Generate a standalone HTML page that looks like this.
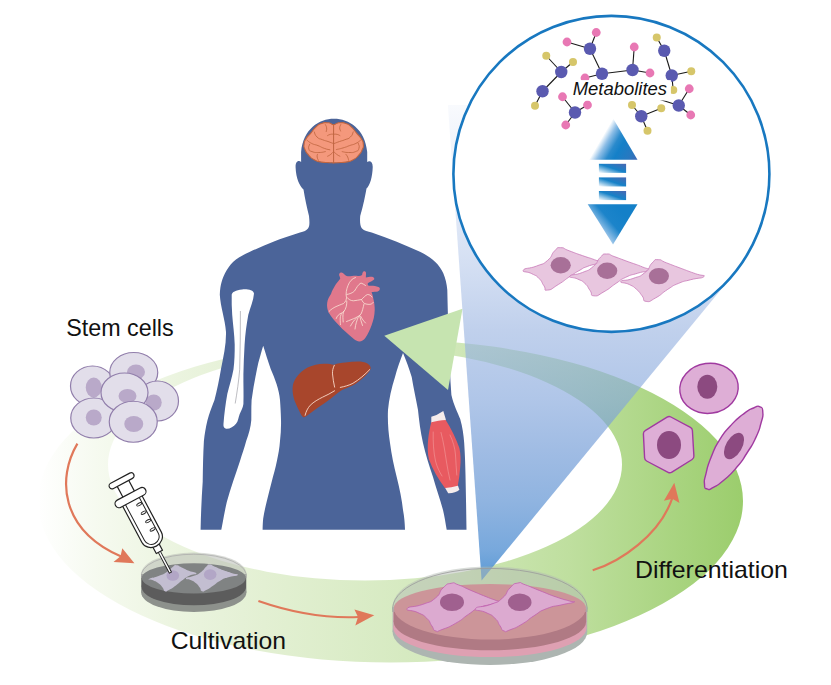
<!DOCTYPE html>
<html><head><meta charset="utf-8">
<style>
html,body{margin:0;padding:0;background:#fff;}
svg{display:block;font-family:"Liberation Sans",sans-serif;}
</style></head>
<body>
<svg width="831" height="685" viewBox="0 0 831 685">
<defs>
  <linearGradient id="ringG" gradientUnits="userSpaceOnUse" x1="38" y1="0" x2="745" y2="0">
    <stop offset="0" stop-color="#ffffff"/>
    <stop offset="0.08" stop-color="#f6faf0"/>
    <stop offset="0.2" stop-color="#ebf4df"/>
    <stop offset="0.32" stop-color="#e3f0d3"/>
    <stop offset="0.55" stop-color="#d4e9be"/>
    <stop offset="0.75" stop-color="#bfdf9f"/>
    <stop offset="0.9" stop-color="#a9d480"/>
    <stop offset="1" stop-color="#9bcd6c"/>
  </linearGradient>
  <linearGradient id="coneG" gradientUnits="userSpaceOnUse" x1="0" y1="100" x2="0" y2="581">
    <stop offset="0" stop-color="#c9d7f1" stop-opacity="0.1"/>
    <stop offset="0.208" stop-color="#c9d7f1" stop-opacity="0.5"/>
    <stop offset="0.478" stop-color="#9eb7e2" stop-opacity="0.65"/>
    <stop offset="0.624" stop-color="#85a7dc" stop-opacity="0.65"/>
    <stop offset="0.728" stop-color="#6d98d5" stop-opacity="0.65"/>
    <stop offset="0.832" stop-color="#6b9bd6" stop-opacity="0.75"/>
    <stop offset="0.936" stop-color="#6099d6" stop-opacity="0.85"/>
    <stop offset="1" stop-color="#4f93d2" stop-opacity="0.95"/>
  </linearGradient>
  <linearGradient id="arrUp" gradientUnits="userSpaceOnUse" x1="601.0" y1="139.1" x2="637.2" y2="160.3">
    <stop offset="0" stop-color="#ffffff"/>
    <stop offset="0.16" stop-color="#8cbde6"/>
    <stop offset="0.35" stop-color="#2a8acc"/>
    <stop offset="0.5" stop-color="#1480c8"/>
    <stop offset="0.8" stop-color="#2878c0"/>
    <stop offset="1" stop-color="#4068b4"/>
  </linearGradient>
  <linearGradient id="arrBar" x1="0" y1="1" x2="1" y2="0">
    <stop offset="0" stop-color="#ffffff"/>
    <stop offset="0.5" stop-color="#1682c8"/>
    <stop offset="1" stop-color="#4a68b2"/>
  </linearGradient>
  <linearGradient id="arrDn" gradientUnits="userSpaceOnUse" x1="594" y1="236" x2="622" y2="212">
    <stop offset="0" stop-color="#ffffff"/>
    <stop offset="0.3" stop-color="#8cbde6"/>
    <stop offset="0.6" stop-color="#1c84ca"/>
    <stop offset="1" stop-color="#1480c8"/>
  </linearGradient>
</defs>

<!-- RING -->
<g id="ring">
<path fill="url(#ringG)" fill-rule="evenodd" d="M38,501.1 a352.5,161.45 0 1,0 705,0 a352.5,161.45 0 1,0 -705,0 Z M108,464.5 a257,116 0 1,0 514,0 a257,116 0 1,0 -514,0 Z"/>
</g>

<!-- white mask behind body -->

<!-- BODY -->
<g id="body">
<!-- white gap masks -->
<path d="M263.2,344 L285,344 L285,532 L220,532 Z" fill="#fff"/>
<path d="M403,351 L386,351 L386,532 L448,532 Z" fill="#fff"/>
<path fill="#4b6499" d="
M334,118.8
C349,118.8 365,129 367.2,152
L367.2,162
C369.5,160 373,161.5 372.7,167.5
C372.4,177 370,185.5 366.5,188.5
C364.5,200 362,210 360.2,216
C359.8,222 360,226 362,228.5
C364,231 368,231.5 371.7,232.5
C380,235.5 388.5,238.5 396.7,241.7
C404.5,245 412.5,248.2 420,251.7
C425.5,254.5 430.5,257.5 435,261.7
C438.5,265 441.5,269 443.3,273.3
C445.5,278.5 446.8,284 447.3,290
C448,320 449,360 451.4,395
C454,406 457.5,412 460.2,419
C462.5,427 463.6,435 464.2,443
C465,455 465.3,465 465.5,475
L466.1,505 L466.5,529.8
L446.7,529.8
C445.5,523 444.5,516 443,510
C440,499 436,488 433,477
C429,465 425.5,454 423,443
C420.5,432 419,420 418,410
C416,399 413.5,388 411.7,377
C409,368 406,360 403,353
C400,361 397,369 395,377
C391.5,388 389,399 388,410
C387.5,421 388.3,432 390,443
C391.5,455 394,466 396.7,477
C399.5,488 402,500 403,510
C404.3,517 404.8,523 405,529.8
L262.6,529.8
C262.7,525 262.9,521 263.2,518.5
C264,513 265.3,507.5 266.6,502
C268.3,495 270,488.5 271.7,481.7
C273.5,475 275.5,468 276.9,461
C278.3,454.5 279.5,448 280,441
C280.8,434 281.2,427 281,420
C280.9,413.5 280.5,407 280,400
C279.2,389.5 275,379 270.7,369
C268,361 265.5,353 263.2,345.7
C261,353 258.5,361 257,369
C255,379 253,389.5 251.6,400
C251.2,407 251.4,413.5 251.3,420
C250.8,427 248.8,434 246.2,441
C244.3,448 242,454.5 240,461
C237.7,468 235.3,475 233,481.7
C230.8,488.5 228.7,495 226.8,502
C225.2,509 223.8,516 222.7,522.6
L221.3,529.8
L200.6,529.8
C200.9,514 201.6,498 202.7,481.7
C202.9,468 203.1,454.5 203.9,441
C204.6,434 205.8,427 207.4,420.4
C209.3,413.5 211.7,407 214.5,400
C217,390 219.3,379.5 221,369
C223.5,356.5 226.3,344 226,332
C225,319 220.5,307 219.8,294.8
C220.2,284 222.5,278.5 225,273.3
C227,269 230,265 233.3,261.7
C238,257.5 244,254.5 250,251.7
C257.5,248.2 265.5,245 273.3,241.7
C281.5,238.5 291,235.5 300,232.5
C304,231.5 306.5,230.5 308,228.5
C309.8,226 309.6,222 309,216
C307,208 305,199 303.5,189.5
C299.5,186 296,178 295.6,167.5
C295.3,161 299,160 301.1,162
L301.1,152
C303.3,129 319,118.8 334,118.8 Z"/>
</g>

<g id="organs">
<!-- brain -->
<path d="M333.5,124.6 C331.3,124.6 332.4,123.8 330.3,123.2 C328.2,122.6 330.0,122.7 327.1,122.8 C324.2,122.8 325.3,122.0 321.6,123.4 C318.0,124.8 319.8,123.6 316.1,126.9 C312.5,130.2 314.0,129.3 310.6,133.3 C307.3,137.3 308.3,135.1 306.1,138.8 C303.9,142.4 304.4,140.6 304.1,144.3 C303.7,147.9 303.6,146.1 305.1,149.8 C306.7,153.4 305.8,151.9 308.8,155.3 C311.9,158.6 310.0,157.5 314.3,159.8 C318.6,162.1 316.7,161.2 321.6,162.1 C326.5,163.0 325.0,162.3 328.9,162.6 C332.9,162.8 330.3,162.9 333.5,162.9 C336.7,162.9 334.4,162.8 338.5,162.6 C342.5,162.3 340.9,163.0 345.8,162.1 C350.7,161.2 348.8,162.1 353.1,159.8 C357.4,157.5 355.5,158.6 358.6,155.3 C361.6,151.9 360.7,153.4 362.2,149.8 C363.8,146.1 363.6,147.9 363.3,144.3 C363.0,140.6 363.5,142.4 361.3,138.8 C359.1,135.1 360.1,137.3 356.8,133.3 C353.4,129.3 354.9,130.2 351.3,126.9 C347.6,123.6 349.4,124.8 345.8,123.4 C342.1,122.0 343.2,122.8 340.3,122.8 C337.4,122.7 339.3,122.6 337.1,123.2 C334.8,123.8 335.8,124.6 333.5,124.6 Z" fill="#f4987c" stroke="#bf6540" stroke-width="1.1" stroke-linejoin="round"/>
<g fill="none" stroke="#bf6540" stroke-width="0.85" stroke-linecap="round">
<path d="M333.6,124.8 L333.6,162.8" stroke-width="1"/>
<path d="M325.3,124.6 C325.7,125.7 326.3,125.5 326.6,127.8 C327.0,130.1 326.3,130.2 326.2,131.5"/>
<path d="M314.3,131.9 C315.2,133.6 314.3,134.4 317.0,137.0 C319.8,139.6 318.9,138.2 322.5,139.7 C326.2,141.2 324.5,140.3 328.0,141.5 C331.5,142.8 331.4,142.8 333.1,143.4"/>
<path d="M307.0,140.2 C308.5,141.2 307.9,141.5 311.6,143.4 C315.2,145.2 313.7,144.0 318.0,145.6 C322.2,147.3 320.4,147.0 324.4,148.4 C328.3,149.8 328.0,149.3 329.9,149.8"/>
<path d="M309.7,144.3 C309.4,145.8 308.0,146.4 308.8,148.9 C309.6,151.3 308.7,150.4 312.0,151.6 C315.4,152.8 314.5,152.5 318.9,152.5 C323.3,152.5 323.1,151.9 325.3,151.6"/>
<path d="M317.5,154.3 C317.4,155.3 316.9,155.1 317.2,157.1 C317.5,159.1 318.0,159.2 318.4,160.3"/>
<path d="M327.6,156.2 C328.6,155.6 328.8,155.9 330.8,154.3 C332.7,152.8 332.6,152.5 333.5,151.6"/>
<path d="M327.6,135.6 C328.5,135.2 328.3,134.9 330.3,134.4 C332.3,133.9 332.4,134.3 333.5,134.2"/>
<path d="M340.8,124.6 C340.5,125.7 339.8,125.7 339.7,127.8 C339.7,129.9 340.3,129.9 340.6,131.0"/>
<path d="M353.2,131.9 C352.3,133.6 353.2,134.4 350.4,137.0 C347.7,139.6 348.6,138.2 344.9,139.7 C341.3,141.2 343.0,140.3 339.5,141.5 C336.0,142.8 336.1,142.8 334.4,143.4"/>
<path d="M360.5,140.2 C359.0,141.2 359.6,141.5 355.9,143.4 C352.3,145.2 353.8,144.1 349.5,145.6 C345.3,147.2 347.5,146.6 343.1,147.9 C338.7,149.2 338.5,149.0 336.3,149.6"/>
<path d="M358.2,143.4 C358.5,145.0 359.9,145.6 358.9,148.4 C358.0,151.1 358.9,150.2 355.5,151.6 C352.0,153.0 353.0,152.5 348.6,152.5 C344.2,152.5 344.3,151.9 342.2,151.6"/>
<path d="M345.9,154.3 C346.5,155.3 346.8,155.1 347.7,157.1 C348.6,159.1 348.3,159.2 348.6,160.3"/>
<path d="M339.9,156.2 C338.8,155.6 338.8,155.9 336.7,154.3 C334.6,152.8 334.7,152.5 333.7,151.6"/>
<path d="M339.9,135.6 C339.0,135.2 339.2,134.9 337.2,134.4 C335.1,133.9 334.9,134.3 333.7,134.2"/>
</g>
<!-- heart -->
<path fill="#e0788c" d="M339.1,275.1 C339,273 340.5,272.2 341.4,272.6 C342.8,273 343.5,273.8 344.5,274.4 C345.5,275.2 346.5,276 347.7,276.3 C350.5,276.5 353.5,275.5 356.5,275.7 C358.5,276.3 360.5,276.3 362.1,275.1 C362.3,273.5 362.6,271.6 364,271.3 C365.2,271.2 365.9,271.8 365.9,272.6 C366.2,274.3 365.8,276 365.9,277.6 C368,277.5 370.5,276.5 372.8,277 C374.2,277.5 374.6,278.7 374.1,279.5 C372.5,281.2 369.8,281.8 367.8,283.2 C367.5,284.5 368,285.5 369,285.8 C372,285.5 375.5,285.8 378.5,287 C379.8,287.6 380.2,288.6 379.7,289.5 C379.4,290.5 378.7,291.1 377.8,291.4 C375.8,291.9 373.5,291.6 371.6,292 C372.5,294.3 373,296.6 373.4,299 C374.3,302.8 374.8,306.5 374.7,310.3 C374.6,315.5 373.4,320.5 371.6,325.3 C370,329.8 368,334.2 365.3,337.9 C363.6,340.2 361.3,341.6 359,341.4 C356.6,341.1 354.5,339.6 352.7,337.9 C348,334 343,330 338.9,325.3 C335,321.3 331.4,317.3 328.8,312.8 C327.3,309.6 326.7,306.1 327.2,302.7 C327.6,299.2 329.3,296.6 331,294 C332,291 333.3,288.5 334.8,286 C336.3,283.3 338.5,281 340.2,278.8 C340.2,277.5 339.5,276.3 339.1,275.1 Z"/>
<g fill="none" stroke="#fae3d6" stroke-width="0.8" stroke-linecap="round">
<path d="M329,311.5 C333,307 339,305.5 343.5,303.5 C345.5,302 346.5,299.5 346.5,297.5 C345.5,294 346.5,289 348,285.5 C349.5,281.5 352,278.5 355.5,277.5"/>
<path d="M346.8,294.5 C349.5,294 352.5,293 354.5,291 C356.5,288 358,284.5 361,283 C362.5,283.5 364,284.5 365.5,285.5"/>
<path d="M347,297.5 C348.5,299.5 351,300.8 353.5,300.8 C356,300.5 359,300 361.5,299.5 C363.5,297.8 365,295.5 367.5,294.5 C369.5,294.5 371,295.5 372,297"/>
<path d="M361.5,299.5 C362.5,301.5 363.5,303.5 366,304 C368.5,304.5 371.5,305 373.2,302.5"/>
<path d="M364,304 C363,308 362.5,311 361,314 C358.5,317 353,319 346.5,321.5"/>
<path d="M358.5,316.5 C357,320 355.5,324 355,329"/>
<path d="M356.5,318 C353.5,320.5 352,323.5 350.5,326"/>
<path d="M359.5,315.5 C360.5,319 361.5,322.5 362.5,325.5"/>
<path d="M360.5,316 C362,319 364,321.5 365.5,323"/>
<path d="M346.8,301 C347,305 346,309 343.5,312 C342.5,315.5 343,319 343.2,322"/>
<path d="M344,311 C341.5,313 340,315.5 340.2,319 C340.2,321.5 340.3,323 340.5,324.5"/>
<path d="M341.5,313 C339,314 337,316 336.2,318.5"/>
</g>
<!-- liver -->
<path fill="#a8462c" d="M292.6,387.7 C292.8,384 294.3,380.5 296.3,377.6 C299.2,373.5 303.2,370 307.6,367.6 C312.8,365.2 318.5,364 324,363.8 C327.5,363.6 331,364.2 334,364.8 C337.5,363.5 341.5,363 345.3,362.6 C350.3,361.9 355.5,361.4 360.4,361.6 C363.8,361.9 367.2,363 369.2,365.1 C370.3,366.2 370.9,367.6 370.7,368.8 C369.5,371.5 367.5,373.8 365.4,375.8 C362.4,378.8 359,381.7 355.4,383.9 C351,386.5 346,388 341.6,390.2 C337.6,392.8 334,396 330.3,399 C326.2,402 322,405 317.7,407.8 C314.3,410.3 311,413 307.6,415.3 C306.3,416.4 304.6,417.5 303.2,417.2 C301.8,416.2 300.9,414.5 300.1,412.8 C298,408.8 296,404.6 294.4,400.3 C293.2,396.3 292.4,392 292.6,387.7 Z"/>
<g fill="none" stroke="#f8d8c8" stroke-width="0.9" stroke-linecap="round">
<path d="M334.3,365.3 C333,368 332.3,371 332.5,373.9 C332.8,378.5 333.8,383 334.6,387.1"/>
<path d="M305.1,415.3 C306,411.5 307.8,408 310.2,405.3 C313.8,401.8 318.3,399.3 322.7,397.1 C326.8,395 331.2,393.2 334.6,390.8"/>
<path d="M340.3,387.4 C344.6,386.6 349,385.3 352.9,383.3 C359.3,379.6 364.7,374.7 369.8,369.5"/>
</g>
<!-- bone -->
<path fill="#fff" d="M231.7,294.8 C231.8,292 236,290 242.1,289.4 C248,289 253.5,290 254,293.6 C253.5,300.5 250.3,307.5 248.3,314.7 C246.5,324.5 245.2,334.5 244.6,344.4 C244,354.3 243.6,364.3 243.4,374.2 C243.3,384.2 243.8,394 243.4,404 C243,408 241,411 239.7,413.9 C238.3,417.5 238.3,421 236,423.8 C233.5,426.8 229.5,429.3 226,428.8 C223.8,428.3 223.2,426 223.5,423.8 C224.3,413.8 225.5,404 227.3,394 C229.3,385.8 232,377.6 233.5,369.3 C234.5,361 234.8,352.7 234.7,344.4 C234.4,334.5 233,324.6 232.2,314.7 C231.8,308 231.5,301.5 231.7,294.8 Z"/>
<path fill="none" stroke="#909098" stroke-width="0.6" d="M240.4,311 C240.3,330 240.4,350 239.7,369.3 C238.8,381 237,392.5 235.2,403.5"/>
<!-- muscle -->
<path fill="#f5ecec" d="M431.3,416.7 L436.5,415 L443.3,411 L445.7,419 L445.9,421 L431.3,423.3 Z"/>
<path fill="#f5ecec" d="M444.9,487.6 L457.8,485.2 L459.4,489.7 C457,492 452,493.5 448.2,493.2 Z"/>
<path fill="#e85a60" d="M431.3,422.3 C436,421 441,420 445.7,419.9 C451,428.5 456,438 459.4,448 C460.8,454.3 460.8,460.8 460.2,467.2 C459.8,473.5 459,479.7 457.8,485.7 C453.5,487 449.2,487.8 444.9,488.1 C438.5,479 432.5,469.5 428.9,459.2 C427.5,452.8 427.5,446.3 428.1,440 C428.7,434 429.8,428 431.3,422.3 Z"/>
<g fill="none" stroke="#f4a8a8" stroke-width="0.5" stroke-linecap="round">
<path d="M433.2,432 C433,442 433.5,452 435.5,461 C437,467 439.5,472 442,476"/>
<path d="M441,432.5 C443.5,442 445,452 446.5,462 C447.5,468.5 448.8,474.5 450,480"/>
<path d="M450,435 C453,441 455,448 455.5,455 C456,462 456.2,469 456.8,475"/>
</g>
</g>

<!-- ARROWHEAD -->
<polygon points="384.3,335.8 462.5,308.8 448,390" fill="#c6e4b0"/>

<!-- CONE -->
<g id="cone">
<path d="M481.6,580.5 L447.9,105 L600,105 L733.6,274.3 Z" fill="url(#coneG)"/>
</g>

<!-- CIRCLE -->
<g id="circle">
<circle cx="611.4" cy="173.9" r="158" fill="#fff" stroke="#1878c0" stroke-width="2.6"/>
<g stroke="#1a1a1a" stroke-width="1.1">
<line x1="561.25" y1="72" x2="542.5" y2="91.25"/>
<line x1="561.25" y1="72" x2="546.25" y2="55.75"/>
<line x1="561.25" y1="72" x2="573" y2="62"/>
<line x1="542.5" y1="91.25" x2="535" y2="105.75"/>
<line x1="590" y1="48.75" x2="567" y2="42"/>
<line x1="590" y1="48.75" x2="596.25" y2="32.5"/>
<line x1="590" y1="48.75" x2="602" y2="73.75"/>
<line x1="602" y1="73.75" x2="632.5" y2="70"/>
<line x1="632.5" y1="70" x2="634.25" y2="47"/>
<line x1="632.5" y1="70" x2="650" y2="73"/>
<line x1="602" y1="73.75" x2="585" y2="78"/>
<line x1="656.75" y1="37.5" x2="664.25" y2="50.75"/>
<line x1="664.25" y1="50.75" x2="671.75" y2="75.5"/>
<line x1="671.75" y1="75.5" x2="691.25" y2="71.25"/>
<line x1="671.75" y1="75.5" x2="673.25" y2="90"/>
<line x1="678.75" y1="105.5" x2="689.25" y2="88.75"/>
<line x1="678.75" y1="105.5" x2="690.75" y2="115"/>
<line x1="678.75" y1="105.5" x2="660" y2="99.5"/>
<line x1="575" y1="112.5" x2="562.5" y2="96.75"/>
<line x1="575" y1="112.5" x2="587.5" y2="105"/>
<line x1="575" y1="112.5" x2="565.75" y2="125"/>
<line x1="641.25" y1="116.25" x2="632" y2="105"/>
<line x1="641.25" y1="116.25" x2="661.25" y2="108.25"/>
<line x1="641.25" y1="116.25" x2="647.5" y2="130.75"/>
</g>
<circle cx="561.25" cy="72" r="6.2" fill="#5a5ab0"/>
<circle cx="542.5" cy="91.25" r="6.2" fill="#5a5ab0"/>
<circle cx="546.25" cy="55.75" r="4.0" fill="#d6c66a"/>
<circle cx="573" cy="62" r="4.0" fill="#d6c66a"/>
<circle cx="535" cy="105.75" r="4.0" fill="#d6c66a"/>
<circle cx="590" cy="48.75" r="6.2" fill="#5a5ab0"/>
<circle cx="567" cy="42" r="4.4" fill="#e878b4"/>
<circle cx="596.25" cy="32.5" r="4.4" fill="#e878b4"/>
<circle cx="602" cy="73.75" r="6.2" fill="#5a5ab0"/>
<circle cx="632.5" cy="70" r="6.2" fill="#5a5ab0"/>
<circle cx="634.25" cy="47" r="4.4" fill="#e878b4"/>
<circle cx="650" cy="73" r="4.4" fill="#e878b4"/>
<circle cx="585" cy="78" r="4.4" fill="#e878b4"/>
<circle cx="656.75" cy="37.5" r="4.0" fill="#d6c66a"/>
<circle cx="664.25" cy="50.75" r="6.2" fill="#5a5ab0"/>
<circle cx="671.75" cy="75.5" r="6.2" fill="#5a5ab0"/>
<circle cx="691.25" cy="71.25" r="4.0" fill="#d6c66a"/>
<circle cx="673.25" cy="90" r="4.0" fill="#d6c66a"/>
<circle cx="678.75" cy="105.5" r="6.2" fill="#5a5ab0"/>
<circle cx="689.25" cy="88.75" r="4.4" fill="#e878b4"/>
<circle cx="690.75" cy="115" r="4.4" fill="#e878b4"/>
<circle cx="575" cy="112.5" r="6.2" fill="#5a5ab0"/>
<circle cx="562.5" cy="96.75" r="4.4" fill="#e878b4"/>
<circle cx="587.5" cy="105" r="4.4" fill="#e878b4"/>
<circle cx="565.75" cy="125" r="4.4" fill="#e878b4"/>
<circle cx="641.25" cy="116.25" r="6.2" fill="#5a5ab0"/>
<circle cx="632" cy="105" r="4.0" fill="#d6c66a"/>
<circle cx="661.25" cy="108.25" r="4.0" fill="#d6c66a"/>
<circle cx="647.5" cy="130.75" r="4.0" fill="#d6c66a"/>
<rect x="569" y="80.1" width="101.9" height="20.4" fill="#fff"/>
<text x="572.7" y="94.9" font-size="18" font-style="italic" textLength="94.4" lengthAdjust="spacingAndGlyphs" fill="#111">Metabolites</text>
<polygon points="613.1,118.4 588.8,159.7 637.5,159.7" fill="url(#arrUp)"/>
<rect x="598.9" y="163.8" width="27.2" height="9.1" fill="url(#arrBar)"/>
<rect x="598.9" y="177.4" width="27.2" height="9.1" fill="url(#arrBar)"/>
<rect x="598.9" y="191" width="27.2" height="9.1" fill="url(#arrBar)"/>
<polygon points="587.7,204.2 637.5,204.2 613,244.5" fill="url(#arrDn)"/>
<path d="M523.4,270.1 C525.0,267.5 528.6,269.2 536.7,266.0 C544.7,262.8 541.5,265.5 547.5,260.5 C553.5,255.4 550.3,255.1 554.7,250.8 C559.1,246.6 555.9,247.7 560.7,247.7 C565.5,247.7 561.9,248.2 569.2,250.8 C576.4,253.5 574.0,252.7 582.4,255.6 C590.8,258.6 588.8,257.5 594.4,259.7 C600.0,262.0 601.6,260.1 599.2,262.4 C596.8,264.6 593.6,263.9 587.2,266.5 C580.8,269.0 585.6,266.9 580.0,270.1 C574.4,273.3 577.6,271.3 570.4,276.1 C563.1,280.9 565.9,279.9 558.3,284.5 C550.7,289.2 552.3,289.7 547.5,290.1 C542.7,290.5 546.7,289.6 543.9,285.7 C541.1,281.9 543.1,282.5 539.1,278.5 C535.1,274.5 537.1,276.5 531.8,273.7 C526.6,270.9 521.8,272.7 523.4,270.1 Z" fill="#e6c0dc" fill-opacity="0.9" stroke="#c878b8" stroke-width="0.8" stroke-linejoin="round"/>
<ellipse cx="560.7" cy="265.3" rx="10.1" ry="8.2" fill="#a87098"/>
<path d="M569.9,276.1 C571.5,273.9 574.6,275.7 582.4,272.5 C590.2,269.3 587.2,271.5 593.2,266.5 C599.2,261.4 596.0,261.5 600.4,257.3 C604.9,253.2 601.6,254.1 606.5,254.0 C611.3,253.8 607.7,254.3 614.9,256.8 C622.1,259.4 618.9,258.3 628.1,261.7 C637.3,265.0 635.7,264.1 642.6,267.0 C649.4,269.8 650.2,268.0 648.6,270.1 C647.0,272.2 645.4,270.8 637.7,273.2 C630.1,275.6 632.9,273.9 625.7,277.3 C618.5,280.7 623.3,278.5 616.1,283.3 C608.9,288.1 611.4,287.6 604.0,291.7 C596.7,295.9 598.6,296.2 593.9,295.8 C589.3,295.4 593.1,294.7 590.1,290.5 C587.0,286.4 589.0,287.2 584.8,283.3 C580.6,279.5 582.5,281.4 577.6,279.0 C572.6,276.6 568.3,278.3 569.9,276.1 Z" fill="#e6c0dc" fill-opacity="0.9" stroke="#c878b8" stroke-width="0.8" stroke-linejoin="round"/>
<ellipse cx="607.2" cy="270.8" rx="10.1" ry="8.2" fill="#a87098"/>
<path d="M620.9,281.4 C622.1,279.4 624.9,281.5 632.9,278.5 C641.0,275.5 638.5,277.7 645.0,272.5 C651.4,267.3 647.8,267.1 652.2,262.9 C656.6,258.6 653.4,259.7 658.2,259.7 C663.0,259.7 659.0,260.0 666.6,262.9 C674.2,265.8 671.4,264.8 681.1,268.4 C690.7,272.0 687.9,271.0 695.5,273.7 C703.1,276.4 705.5,274.6 703.9,276.6 C702.3,278.6 699.1,277.5 690.7,279.7 C682.3,282.0 686.3,280.1 678.7,283.3 C671.0,286.5 675.4,284.5 667.8,289.3 C660.2,294.2 663.0,293.8 655.8,297.8 C648.6,301.8 650.7,302.0 646.2,301.4 C641.6,300.7 645.3,299.8 642.1,295.8 C638.9,291.8 640.8,293.1 636.5,289.3 C632.3,285.6 634.5,287.2 629.3,284.5 C624.1,281.9 619.7,283.4 620.9,281.4 Z" fill="#e6c0dc" fill-opacity="0.9" stroke="#c878b8" stroke-width="0.8" stroke-linejoin="round"/>
<ellipse cx="658.9" cy="276.1" rx="10.1" ry="8.2" fill="#a87098"/>
</g>

<!-- STEM CELLS -->
<g id="stem">
<ellipse cx="92.5" cy="386" rx="22" ry="20" fill="#e2deea" stroke="#917eab" stroke-width="1.2"/>
<ellipse cx="93.75" cy="387.5" rx="8" ry="10" fill="#b9a9c9"/>
<ellipse cx="133.75" cy="372.5" rx="24" ry="20" fill="#e2deea" stroke="#917eab" stroke-width="1.2"/>
<ellipse cx="136" cy="372" rx="9" ry="7.5" fill="#b9a9c9"/>
<ellipse cx="157.5" cy="401" rx="21" ry="20" fill="#e2deea" stroke="#917eab" stroke-width="1.2"/>
<ellipse cx="153.75" cy="402.5" rx="8" ry="8" fill="#b9a9c9"/>
<ellipse cx="93.75" cy="418" rx="23" ry="20" fill="#e2deea" stroke="#917eab" stroke-width="1.2"/>
<ellipse cx="93.75" cy="417.5" rx="8" ry="8" fill="#b9a9c9"/>
<ellipse cx="124.5" cy="392.5" rx="23.5" ry="19.5" fill="#e2deea" stroke="#917eab" stroke-width="1.2"/>
<ellipse cx="127.5" cy="396" rx="9" ry="7" fill="#b9a9c9"/>
<ellipse cx="133.25" cy="421.75" rx="24" ry="20.5" fill="#e2deea" stroke="#917eab" stroke-width="1.2"/>
<ellipse cx="133.75" cy="424" rx="9.5" ry="8" fill="#b9a9c9"/>
</g>

<!-- SYRINGE + DISH -->
<g id="smalldish">
<!-- dish -->
<clipPath id="sdLow"><rect x="135" y="574" width="120" height="45"/></clipPath>
<clipPath id="sdClip"><ellipse cx="193.8" cy="574" rx="52.6" ry="21.5"/></clipPath>
<g clip-path="url(#sdLow)">
<ellipse cx="193.8" cy="592.6" rx="52.6" ry="19.4" fill="#8d918c"/>
<rect x="141.2" y="574" width="105.2" height="18.6" fill="#8d918c"/>
<ellipse cx="193.8" cy="586.9" rx="52.2" ry="18.4" fill="#5c5c5c"/>
<rect x="141.6" y="576" width="104.4" height="10.9" fill="#5c5c5c"/>
</g>
<g clip-path="url(#sdClip)">
<rect x="135" y="545" width="120" height="35" fill="#b8bcb4" fill-opacity="0.55"/>
</g>
<path d="M141.8,578 A52,14.7 0 0 1 245.8,578 A52,15.5 0 0 1 141.8,578 Z" fill="#808383"/>
<path d="M141.5,578 A52.6,21.5 0 1 1 246.1,578" fill="none" stroke="#a8a8a8" stroke-width="0.7"/>
<!-- cells -->
<path d="M149.2,578.9 C150.8,577.5 152.5,578.5 158.5,576.0 C164.6,573.6 162.4,574.8 167.2,571.7 C172.0,568.6 169.9,568.8 173.0,566.7 C176.1,564.5 173.7,565.0 176.6,565.2 C179.5,565.5 177.6,565.6 181.7,567.4 C185.7,569.2 184.0,568.7 188.9,570.7 C193.8,572.7 195.9,571.9 196.4,573.4 C196.9,575.0 194.7,573.3 190.3,575.3 C185.9,577.4 187.9,576.3 183.1,579.7 C178.3,583.0 180.7,582.0 175.9,585.4 C171.1,588.9 172.3,588.1 168.7,590.1 C165.0,592.0 167.2,592.3 165.0,591.2 C162.9,590.2 164.6,589.7 162.2,586.9 C159.8,584.1 160.7,585.0 157.8,582.8 C154.9,580.7 156.4,581.7 153.5,580.4 C150.6,579.1 147.5,580.4 149.2,578.9 Z" fill="#c3bed1"/>
<path d="M186.0,578.2 C186.5,576.8 188.4,578.0 193.2,576.0 C198.0,574.1 196.1,575.6 200.4,572.4 C204.8,569.3 203.2,569.3 206.2,566.7 C209.2,564.0 206.5,564.5 209.4,564.5 C212.3,564.5 210.1,564.7 214.9,566.7 C219.6,568.6 217.8,568.1 223.5,570.3 C229.3,572.4 227.5,571.6 232.2,573.2 C236.9,574.7 238.6,573.6 237.7,574.9 C236.7,576.2 235.0,575.2 229.3,577.1 C223.6,578.9 225.9,577.6 220.6,580.4 C215.3,583.2 218.2,582.2 213.4,585.4 C208.6,588.7 210.1,588.1 206.2,590.1 C202.4,592.0 204.0,592.0 201.9,591.2 C199.7,590.4 201.6,590.2 199.7,587.6 C197.8,585.0 198.7,585.7 196.1,583.3 C193.4,580.9 195.1,582.1 191.8,580.4 C188.4,578.7 185.5,579.7 186.0,578.2 Z" fill="#c3bed1"/>
<ellipse cx="172.8" cy="575.5" rx="6.3" ry="5.3" fill="#b2a6c6"/>
<ellipse cx="210.2" cy="574.6" rx="6.3" ry="5.3" fill="#b2a6c6"/>
<!-- syringe -->
<g transform="translate(121.6,480.8) rotate(-28)" fill="#fff" stroke="#222" stroke-width="1.2" stroke-linejoin="round">
<rect x="-1.2" y="80" width="2.4" height="24" stroke-width="0.9"/>
<rect x="-3.5" y="73" width="7" height="7.5"/>
<rect x="-6.5" y="2" width="13" height="14"/>
<rect x="-13.75" y="-3" width="27.5" height="6" rx="3"/>
<path d="M-11,22 L-11,64 A11,10 0 0 0 11,64 L11,22 Z"/>
<path d="M-7.8,23 L-7.8,63.5 A7.8,7.5 0 0 0 7.8,63.5 L7.8,23" fill="none" stroke-width="1"/>
<rect x="-17" y="15" width="34" height="8" rx="4"/>
<g fill="none" stroke-width="0.9">
<ellipse cx="4.5" cy="29" rx="2.8" ry="1.2"/>
<ellipse cx="4.5" cy="38.5" rx="2.8" ry="1.2"/>
<ellipse cx="4.5" cy="48" rx="2.8" ry="1.2"/>
<ellipse cx="4.5" cy="57.5" rx="2.8" ry="1.2"/>
</g>
</g>
</g>

<!-- BIG DISH -->
<g id="bigdish">
<clipPath id="bdLow"><rect x="380" y="606.8" width="220" height="70"/></clipPath>
<clipPath id="bdClip"><ellipse cx="489.9" cy="606.8" rx="97.3" ry="40.4"/></clipPath>
<g clip-path="url(#bdLow)">
<ellipse cx="489.9" cy="632" rx="97.3" ry="33" fill="#adb5b1"/>
<rect x="392.6" y="606.8" width="194.6" height="25.2" fill="#adb5b1"/>
<ellipse cx="489.9" cy="628.2" rx="96.5" ry="28.9" fill="#dea0b2"/>
<rect x="393.4" y="609" width="193" height="19.2" fill="#dea0b2"/>
<ellipse cx="489.9" cy="621.8" rx="96.2" ry="28.4" fill="#b07a84"/>
<rect x="393.7" y="609" width="192.4" height="12.8" fill="#b07a84"/>
</g>
<g clip-path="url(#bdClip)">
<path d="M380,540 H600 V612 H380 Z" fill="#b4bcb4" fill-opacity="0.5"/>
</g>
<path d="M393.9,608 A96,24 0 0 1 585.9,608 A96,31.5 0 0 1 393.9,608 Z" fill="#cc9599"/>
<path d="M392.9,612 A97.3,40.4 0 1 1 586.9,612" fill="none" stroke="#9a9a9a" stroke-width="0.8"/>
<path d="M407.2,608.6 C408.9,605.8 413.5,607.8 422.9,604.3 C432.3,600.7 428.8,603.4 435.5,598.0 C442.3,592.5 437.9,592.7 443.1,587.9 C448.3,583.0 446.2,584.3 451.2,583.3 C456.3,582.3 451.7,582.5 458.3,584.8 C464.9,587.2 461.7,586.4 470.9,590.4 C480.2,594.3 477.7,593.3 486.1,596.7 C494.5,600.1 491.6,598.7 496.2,600.5 C500.8,602.3 501.7,600.7 500.0,602.0 C498.3,603.3 498.3,602.3 491.1,604.3 C484.0,606.3 486.1,604.7 478.5,608.1 C470.9,611.4 476.0,609.3 468.4,614.4 C460.8,619.4 464.6,618.2 455.8,623.2 C446.9,628.3 448.6,627.0 441.9,629.6 C435.1,632.1 438.9,632.1 435.5,630.8 C432.2,629.6 434.7,630.0 431.8,625.8 C428.8,621.5 431.3,622.6 426.7,618.2 C422.1,613.8 424.3,615.8 417.9,612.6 C411.4,609.4 405.6,611.4 407.2,608.6 Z" fill="#dcaad0" stroke="#c060b0" stroke-width="0.8" stroke-linejoin="round"/>
<path d="M475.5,608.6 C477.2,605.8 482.1,607.8 491.1,604.3 C500.2,600.7 496.2,603.4 502.5,598.0 C508.8,592.5 505.0,592.8 510.1,587.9 C515.1,582.9 512.6,584.1 517.7,583.1 C522.7,582.0 518.1,582.4 525.3,584.8 C532.4,587.3 528.6,586.3 539.2,590.4 C549.7,594.5 546.7,593.7 556.8,597.2 C567.0,600.7 564.0,599.3 569.5,601.0 C575.0,602.7 575.8,601.0 573.3,602.3 C570.7,603.5 570.7,602.7 561.9,604.8 C553.1,606.9 556.0,605.0 546.7,608.6 C537.5,612.2 542.1,610.6 534.1,615.7 C526.1,620.7 530.7,619.0 522.7,623.7 C514.7,628.5 516.4,627.4 510.1,629.8 C503.8,632.2 507.1,632.2 503.8,630.8 C500.4,629.5 502.9,630.0 500.0,625.8 C497.0,621.5 499.6,622.6 494.9,618.2 C490.3,613.8 492.6,615.8 486.1,612.6 C479.6,609.4 473.8,611.4 475.5,608.6 Z" fill="#dcaad0" stroke="#c060b0" stroke-width="0.8" stroke-linejoin="round"/>
<ellipse cx="452" cy="602.3" rx="12" ry="8.8" fill="#a0608f"/>
<ellipse cx="519.7" cy="602.3" rx="11.8" ry="8.8" fill="#a0608f"/>
</g>

<!-- DIFF CELLS -->
<g id="diff">
<ellipse cx="709" cy="388.3" rx="29.3" ry="25" transform="rotate(-8 709 388.3)" fill="#deaed6" stroke="#a03aa0" stroke-width="1.4"/>
<ellipse cx="707.3" cy="386.7" rx="10" ry="12" fill="#8c4a80"/>
<path d="M667.1,417.1 Q669.0,416.0 670.9,417.0 L690.4,427.3 Q692.3,428.3 692.4,430.5 L693.9,456.1 Q694.0,458.3 692.1,459.5 L671.9,472.1 Q670.0,473.3 668.1,472.3 L646.6,461.0 Q644.7,460.0 644.6,457.8 L643.4,433.9 Q643.3,431.7 645.2,430.6 Z" fill="#deaed6" stroke="#a03aa0" stroke-width="1.4" stroke-linejoin="round"/>
<ellipse cx="669" cy="445" rx="12" ry="14" fill="#8c4a80"/>
<path d="M760.0,406.9 C763.0,408.3 762.4,406.9 762.8,412.2 C763.1,417.5 763.4,414.3 761.1,422.8 C758.7,431.3 760.4,427.7 755.8,437.6 C751.2,447.5 753.6,442.6 747.3,452.5 C740.9,462.3 744.5,458.1 736.7,467.3 C728.9,476.5 731.8,473.3 724.0,480.0 C716.2,486.7 719.0,484.4 713.4,487.4 C707.7,490.4 710.0,490.0 707.0,488.9 C704.1,487.8 704.8,489.3 704.5,484.2 C704.1,479.2 703.7,482.8 706.0,473.6 C708.2,464.5 706.7,468.0 711.3,456.7 C715.9,445.4 713.4,450.0 719.7,439.7 C726.1,429.5 722.6,434.4 730.3,426.0 C738.1,417.5 735.3,420.3 743.1,414.3 C750.8,408.3 748.0,410.4 753.6,408.0 C759.3,405.5 757.0,405.5 760.0,406.9 Z" fill="#deaed6" stroke="#a03aa0" stroke-width="1.4"/>
<ellipse cx="734" cy="446" rx="8" ry="14.5" transform="rotate(30 734 446)" fill="#8c4a80"/>
</g>

<!-- ARROWS -->
<g id="arrows" fill="none" stroke="#e0785a" stroke-width="2.2" stroke-linecap="butt">
<path d="M77.4,443.6 C57,478 60,530 121.2,556.6"/>
<path d="M258.4,601 C290,612 325,618.5 358.7,617"/>
<path d="M592.7,570.3 C620,562 660,535 672.3,498"/>
<g fill="#e0785a" stroke="none">
<polygon points="134.4,563.2 113.5,562.1 120.5,556.2 122.3,548.3"/>
<polygon points="374.3,615.3 355.3,625.4 358,617 354.4,609.4"/>
<polygon points="674.3,482.7 679.5,502.9 672.3,498.8 663.9,500.7"/>
</g>
</g>

<!-- TEXT -->
<g id="labels" fill="#111">
<text x="66.2" y="336" font-size="24" textLength="107.5" lengthAdjust="spacingAndGlyphs">Stem cells</text>
<text x="170.7" y="649.3" font-size="24" textLength="115.3" lengthAdjust="spacingAndGlyphs">Cultivation</text>
<text x="635" y="578.2" font-size="24" textLength="152.8" lengthAdjust="spacingAndGlyphs">Differentiation</text>
</g>
</svg>
</body></html>
